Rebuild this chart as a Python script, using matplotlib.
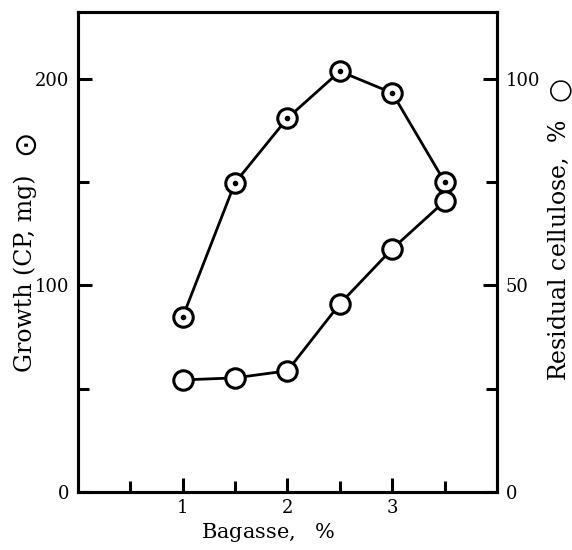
import matplotlib
matplotlib.use("Agg")
import matplotlib.pyplot as plt

bagasse = [1.0, 1.5, 2.0, 2.5, 3.0, 3.5]
growth_mg = [84.5, 149.6, 180.8, 203.5, 193.0, 150.0]
residual_cellulose = [27.1, 27.6, 29.3, 45.5, 58.8, 70.3]

x_ticks_major = [1, 2, 3]
x_ticks_minor = [0.5, 1.5, 2.5, 3.5]
left_ticks_major = [0, 100, 200]
left_ticks_minor = [50, 150]
right_ticks_major = [0, 50, 100]
right_ticks_minor = [25, 75]

plt.rcParams['font.family'] = ['DejaVu Serif', 'DejaVu Sans']
plt.rcParams['mathtext.fontset'] = 'dejavuserif'

W, H = 572, 550
fig = plt.figure(figsize=(W / 100, H / 100), dpi=100)
ax = fig.add_axes([0.136, 0.1055, 0.733, 0.872])
ax2 = ax.twinx()

lw = 2.0
ms = 14
ax.plot(bagasse, growth_mg, color='black', lw=lw, marker='o', ms=ms,
        mfc='white', mec='black', mew=2.2, zorder=3, clip_on=False)
ax.plot(bagasse, growth_mg, ls='none', marker='o', ms=3.0, color='black', zorder=4,
        clip_on=False)
ax2.plot(bagasse, residual_cellulose, color='black', lw=lw, marker='o', ms=ms,
         mfc='white', mec='black', mew=2.2, zorder=3, clip_on=False)

ax.set_xlim(0, 4.0)
ax.set_ylim(0, 232)
ax2.set_ylim(0, 116)

ax.set_xticks(x_ticks_major)
ax.set_xticks(x_ticks_minor, minor=True)
ax.set_yticks(left_ticks_major)
ax.set_yticks(left_ticks_minor, minor=True)
ax2.set_yticks(right_ticks_major)
ax2.set_yticks(right_ticks_minor, minor=True)

for a in (ax, ax2):
    for s in a.spines.values():
        s.set_linewidth(2.2)
    a.tick_params(which='both', direction='in', width=2.2, labelsize=13)
    a.tick_params(which='major', length=10)
    a.tick_params(which='minor', length=8)

ax.tick_params(axis='x', pad=5)
ax.tick_params(axis='y', pad=6)
ax2.tick_params(axis='y', pad=6)

# x label
fig.text(268 / W, 1 - 533 / H, r'Bagasse,   $\mathit{\%}$', fontsize=15,
         ha='center', va='center')

# left axis label with its marker symbol
fig.text(25 / W, 1 - 273 / H, 'Growth (CP, mg)', rotation=90, fontsize=17,
         ha='center', va='center')
fig.text(26 / W, 1 - 142 / H, '\u2299', rotation=90, fontsize=22,
         ha='center', va='center', family=['DejaVu Sans'])

# right axis label with its marker symbol
fig.text(559 / W, 1 - 250 / H, r'Residual cellulose,  $\mathit{\%}$', rotation=90,
         fontsize=17, ha='center', va='center')
fig.text(559 / W, 1 - 89 / H, '\u25cb', rotation=90, fontsize=20,
         ha='center', va='center', family=['DejaVu Sans'])

fig.savefig('out.png', dpi=100, facecolor='white')
